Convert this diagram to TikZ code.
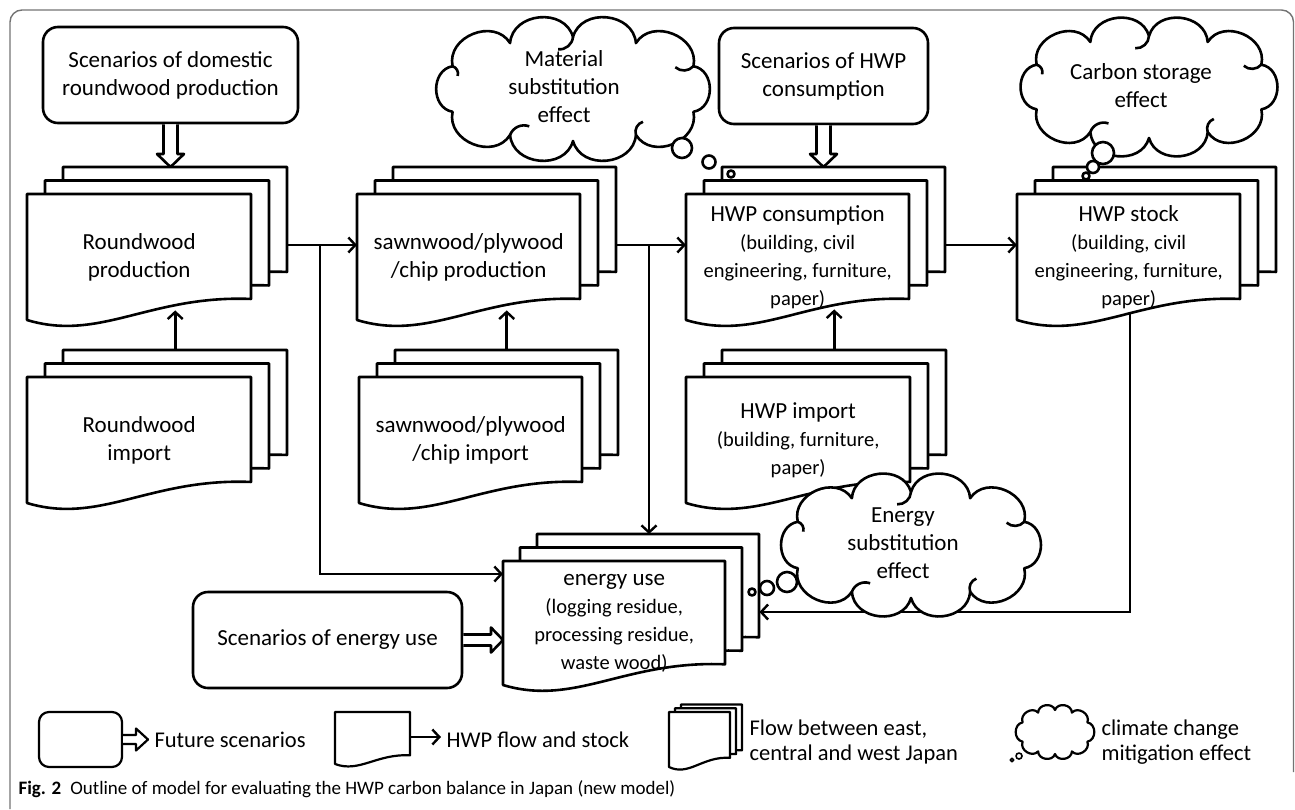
\documentclass[tikz,border=0pt]{standalone}
\usepackage{fontspec}
\setmainfont{Carlito}
\usetikzlibrary{arrows.meta,calc}
\newcommand\subf{\fontsize{20.5}{25}\selectfont}
\newcommand\mainf{\fontsize{23}{28}\selectfont}
\newcommand\legf{\fontsize{22.5}{24.5}\selectfont}
\newcommand\capf{\fontsize{19}{22}\selectfont}
\newcommand\docp[4]{(#1,#2) -- ({#1+#3},#2) -- ({#1+#3},{#2+0.833*#4}) .. controls ({#1+0.55*#3},{#2+0.8*#4}) and ({#1+0.326*#3},{#2+1.175*#4}) .. (#1,{#2+#4}) -- cycle}
\newcommand\cloudp[4]{({#1+#3*cos(26)},{#2+#4*sin(26)}) \foreach \ang in {62,90,118,154,206,242,270,298,334,386} { to[bend left=80,looseness=1.25] ({#1+#3*cos(\ang)},{#2+#4*sin(\ang)}) } -- cycle}
\newcommand\cloudhooks[5]{% cx cy a b d
 \foreach \ang in {62,118,206,270,334} {
  \draw[ln] ({#1+#3*cos(\ang)},{#2+#4*sin(\ang)}) to[bend left=45] ({#1+(#3-#5)*cos(\ang-7)},{#2+(#4-#5)*sin(\ang-7)});
 }}
\newcommand\stack[8]{%
 \draw[ln,fill=white] \docp{#2+2*#6}{#3-2*#7}{#4}{#5};
 \draw[ln,fill=white] \docp{#2+#6}{#3-#7}{#4}{#5};
 \draw[ln,fill=white] \docp{#2}{#3}{#4}{#5};
 \node[anchor=north west,minimum width=#4,minimum height=#5,inner sep=0,align=center,font=\mainf] (#1) at (#2,#3) {#8};
 \node[anchor=north west,minimum width=#4,minimum height=#5,inner sep=0] (#13) at ({#2+2*#6},{#3-2*#7}) {};
}
\newcommand\hollowdown[2]{%
 \draw[ln,fill=white] ($(#1)+(-7,0)$) -- ($(#2)+(-7,-13)$) -- ($(#2)+(-13.5,-13)$) -- (#2) -- ($(#2)+(13.5,-13)$) -- ($(#2)+(7,-13)$) -- ($(#1)+(7,0)$);
}
\newcommand\hollowright[4]{% start, end, shaft half, head half
 \draw[ln,fill=white] ($(#1)+(0,-#3)$) -- ($(#2)+(-12,-#3)$) -- ($(#2)+(-12,-#4)$) -- (#2) -- ($(#2)+(-12,#4)$) -- ($(#2)+(-12,#3)$) -- ($(#1)+(0,#3)$);
}
\pgfdeclarelayer{bg}
\pgfsetlayers{bg,main}
\begin{document}
\begin{tikzpicture}[x=1pt,y=-1pt,line join=round,
  ln/.style={line width=2.6pt},
  flow/.style={line width=2.6pt,-{Straight Barb[length=7pt,width=15pt,line width=2.4pt]}},
  sbox/.style={draw,line width=2.6pt,rounded corners=15pt,fill=white,align=center,font=\mainf,inner sep=0},
  frame/.style={draw=black!55,line width=1.4pt,rounded corners=12pt},
  ctext/.style={inner sep=0,align=center,font=\mainf},
  bubble/.style={draw,line width=2.6pt,fill=white}]
\useasboundingbox (0,0) rectangle (1295,809);

% scenario boxes
\node[sbox,minimum width=255,minimum height=96] (s1) at (170.5,75) {Scenarios of domestic\\roundwood production};
\node[sbox,minimum width=209,minimum height=96] (s2) at (823.5,76) {Scenarios of HWP\\consumption};
\node[sbox,minimum width=269,minimum height=96] (s3) at (327.5,640) {Scenarios of energy use};

% stacks
\stack{rp}{27}{194}{224}{126}{18}{13.5}{Roundwood\\production}
\stack{ri}{27}{377}{224}{126}{18}{13.5}{Roundwood\\import}
\stack{sp}{357}{194}{223}{126}{18}{13.5}{sawnwood/plywood\\/chip production}
\stack{si}{359}{377}{223}{126}{18}{13.5}{sawnwood/plywood\\/chip import}
\stack{hc}{686}{194}{223}{126}{18}{13.5}{HWP consumption\\\subf(building, civil\\\subf engineering, furniture,\\\subf paper)}
\stack{hi}{686}{377}{224}{126}{18}{13.5}{HWP import\\\subf(building, furniture,\\\subf paper)}
\stack{hs}{1017}{194}{223}{126}{18}{13.5}{HWP stock\\\subf(building, civil\\\subf engineering, furniture,\\\subf paper)}
\stack{eu}{503}{561}{222}{124}{17}{13.5}{energy use\\\subf(logging residue,\\\subf processing residue,\\\subf waste wood)}

% junction coordinates
\coordinate (j1) at (320,245);
\coordinate (k1) at (320,574);
\coordinate (j2) at (649,245);
\coordinate (k2) at (1130,612);

\begin{pgfonlayer}{bg}
\draw[frame] (10,809) -- (10,10) -- (1293.5,10) -- (1293.5,772);
\draw[flow] (rp3.east |- j1) -- (sp.west |- j1);
\draw[flow] (j1) -- (k1) -- (eu.west |- k1);
\draw[flow] (sp3.east |- j2) -- (hc.west |- j2);
\draw[flow] (j2) -- (j2 |- eu3.north);
\draw[flow] (hc3.east |- j2) -- (hs.west |- j2);
\draw[flow] (hs.center -| k2) -- (k2) -- (eu3.east |- k2);
\end{pgfonlayer}

% import -> production
\draw[flow] (ri3.north) -- ($(ri3.north |- rp.south)+(0,-10)$);
\draw[flow] (si3.north) -- ($(si3.north |- sp.south)+(0,-10)$);
\draw[flow] (hi3.north) -- ($(hi3.north |- hc.south)+(0,-11)$);

% hollow scenario arrows
\coordinate (a1) at (s1.south |- rp3.north);
\coordinate (a2) at (s2.south |- hc3.north);
\hollowdown{s1.south}{a1}
\hollowdown{s2.south}{a2}
\hollowright{s3.east}{eu.west |- s3.east}{5.5}{12.5}

% clouds
\draw[ln,fill=white] \cloudp{573}{89}{134}{52};
\cloudhooks{573}{89}{134}{52}{12}
\node[ctext] (c1) at (564,87) {Material\\substitution\\effect};
\draw[ln,fill=white] \cloudp{1149}{87}{125}{51};
\cloudhooks{1149}{87}{125}{51}{12}
\node[ctext] (c2) at (1141,86) {Carbon storage\\effect};
\draw[ln,fill=white] \cloudp{911}{545}{126}{53};
\cloudhooks{911}{545}{126}{53}{12}
\node[ctext] (c3) at (903,543) {Energy\\substitution\\effect};
\draw[bubble] (682,148) circle (10);
\draw[bubble] (709,162) circle (6.5);
\draw[bubble] (731,174) circle (3.5);
\draw[bubble] (1103,153) circle (11);
\draw[bubble] (1093,167) circle (6);
\draw[bubble] (1086,176) circle (3.5);
\draw[bubble] (787,582) circle (10);
\draw[bubble] (767,588) circle (7);
\draw[bubble] (752,592) circle (3.5);

% legend
\begin{scope}[ln/.style={line width=2.2pt}]
\node[sbox,line width=2.2pt,rounded corners=10pt,minimum width=83,minimum height=55] (l1) at (80.5,739.5) {};
\coordinate (l1e) at (148,739.5);
\hollowright{l1.east}{l1e}{4.5}{11}
\node[anchor=west,font=\legf] (l1t) at (151,740) {Future scenarios};
\draw[ln,fill=white] \docp{335}{712}{75}{52};
\node[anchor=north west,minimum width=75,minimum height=43,inner sep=0] (l2) at (335,712) {};
\coordinate (l2e) at (441,737);
\draw[flow,line width=2.2pt] (l2.east |- l2e) -- (l2e);
\node[anchor=west,font=\legf] (l2t) at (443,740) {HWP flow and stock};
\stack{l3}{669}{712}{61}{55}{6}{3.8}{}
\node[anchor=west,align=left,font=\legf] (l3t) at (746,742) {Flow between east,\\central and west Japan};
\draw[ln,fill=white] \cloudp{1055}{732}{36}{22};
\draw[bubble,line width=1.6pt] (1019,756) circle (3);
\draw[bubble,line width=1.6pt] (1012,760) circle (1.8);
\node[anchor=west,align=left,font=\legf] (l4t) at (1098,742) {climate change\\mitigation effect};
\end{scope}

% caption
\node[anchor=west,font=\capf] (cap) at (15,789) {\textbf{Fig. 2}\hspace{9pt}Outline of model for evaluating the HWP carbon balance in Japan (new model)};
\end{tikzpicture}
\end{document}
